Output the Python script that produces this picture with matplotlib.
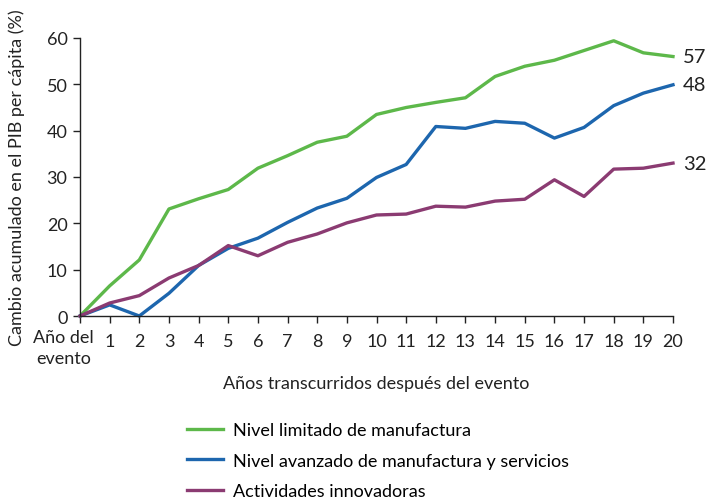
import numpy as np
import matplotlib; matplotlib.use('Agg')
import matplotlib.pyplot as plt
from matplotlib.transforms import blended_transform_factory

plt.rcParams['font.family'] = ['Lato', 'DejaVu Sans']

# ---- data ----
years = list(range(21))
limitado = [0, 6.5, 12.1, 23.1, 25.3, 27.3, 31.9, 34.6, 37.5, 38.8, 43.5,
            45.0, 46.1, 47.1, 51.7, 53.9, 55.2, 57.3, 59.4, 56.8, 56.0]
avanzado = [0, 2.4, 0.0, 4.9, 10.9, 14.6, 16.8, 20.2, 23.3, 25.4, 29.9,
            32.7, 40.9, 40.5, 42.0, 41.6, 38.4, 40.7, 45.4, 48.1, 49.9]
innovadoras = [0, 2.8, 4.4, 8.2, 10.9, 15.2, 13.0, 15.9, 17.7, 20.1, 21.8,
               22.0, 23.7, 23.5, 24.8, 25.2, 29.4, 25.8, 31.7, 31.9, 33.0]
series_names = ['Nivel limitado de manufactura',
                'Nivel avanzado de manufactura y servicios',
                'Actividades innovadoras']
end_labels = ['57', '48', '32']
colors = ['#5DB84A', '#1D66AE', '#8B3B72']
yticks = [0, 10, 20, 30, 40, 50, 60]
first_tick_label = 'Año del\nevento'

fig = plt.figure(figsize=(7.14, 5.02), dpi=100)
ax = fig.add_axes([80/714, 1-317/502, 593/714, 278/502])

handles = []
for vals, name, clr, lab in zip([limitado, avanzado, innovadoras], series_names, colors, end_labels):
    h, = ax.plot(years, vals, color=clr, linewidth=2.4, label=name, clip_on=False)
    handles.append(h)
    ax.annotate(lab, (years[-1], vals[-1]), xytext=(7, 0), textcoords='offset points',
                va='center', ha='left', fontsize=14.5, color='#222222')

ax.set_xlim(0, 20); ax.set_ylim(0, 60)
ax.set_yticks(yticks)
ax.set_xticks(years)
ax.set_xticklabels([''] + [str(y) for y in years[1:]])
ax.tick_params(axis='both', direction='out', length=5, width=1, labelsize=13,
               colors='#222222', pad=4)
ax.tick_params(axis='x', pad=7)
for s in ['top', 'right']:
    ax.spines[s].set_visible(False)
for s in ['left', 'bottom']:
    ax.spines[s].set_linewidth(1)
    ax.spines[s].set_color('#222222')

tr = blended_transform_factory(ax.transData, ax.transAxes)
ax.text(-0.55, -0.045, first_tick_label, transform=tr, ha='center', va='top',
        fontsize=13, color='#222222', linespacing=1.45)

fig.text(376/714, 1-384/502, 'Años transcurridos después del evento', ha='center', va='center',
         fontsize=13, color='#222222')
fig.text(17/714, 1-178/502, 'Cambio acumulado en el PIB per cápita (%)', rotation=90,
         ha='center', va='center', fontsize=13, color='#222222')

fig.legend(handles=handles, loc='upper left', bbox_to_anchor=(180/714, 1-416/502),
           frameon=False, fontsize=13, handlelength=2.0, handletextpad=0.55,
           labelspacing=0.8, borderaxespad=0)

fig.savefig('out.png', dpi=100)
